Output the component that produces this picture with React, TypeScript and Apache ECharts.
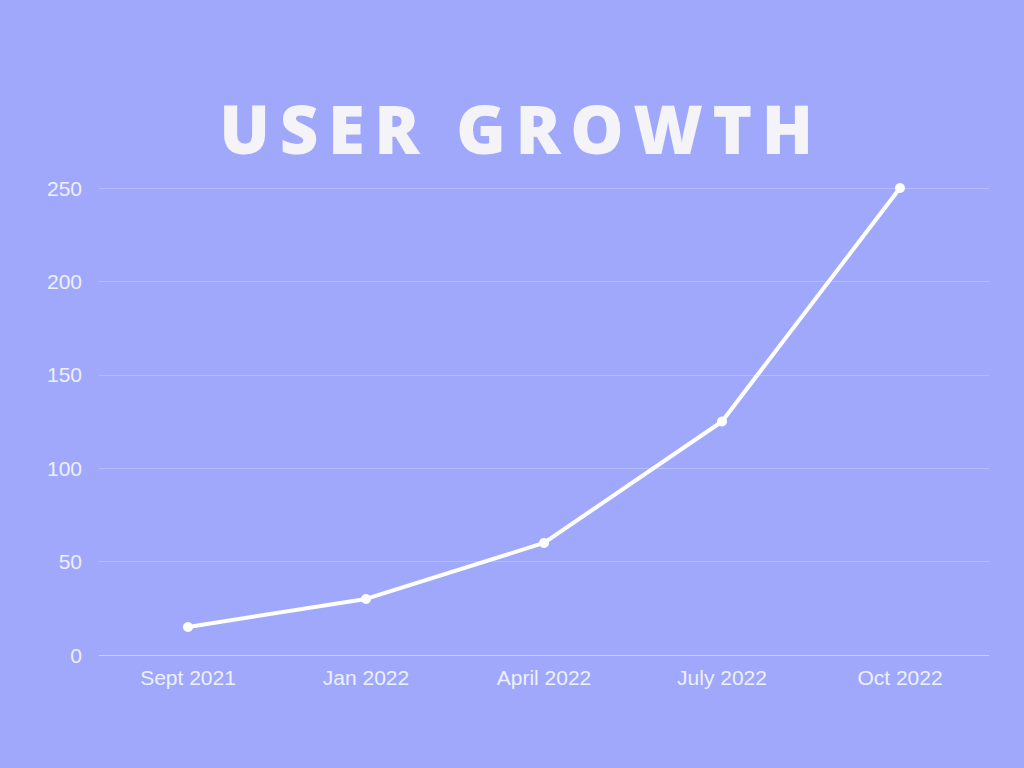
import React, { useEffect, useRef } from "react";
import * as echarts from "echarts";

const categories = ["Sept 2021", "Jan 2022", "April 2022", "July 2022", "Oct 2022"];
const users = [15, 30, 60, 125, 250];
const yTicks = { min: 0, max: 250, interval: 50 };
const titleText = "USER GROWTH";

export default function App() {
  const ref = useRef<HTMLDivElement>(null);
  useEffect(() => {
    if (!ref.current) return;
    const chart = echarts.init(ref.current, undefined, { renderer: "svg" });
    chart.setOption({
      animation: false,
      backgroundColor: "#a0a8fc",
      graphic: [
        {
          type: "text",
          x: 521,
          y: 94,
          style: {
            text: titleText,
            align: "center",
            verticalAlign: "top",
            fontFamily: "Open Sans",
            fontWeight: 800,
            fontSize: 67,
            fill: "#f4f4f8",
          },
        },
      ],
      grid: { left: 99, right: 35, top: 188, bottom: 113, containLabel: false },
      xAxis: {
        type: "category",
        data: categories,
        boundaryGap: true,
        axisLine: { show: true, lineStyle: { color: "rgba(255,255,255,0.3)", width: 1 } },
        axisTick: { show: false },
        axisLabel: {
          color: "#eef0ff",
          fontFamily: "Liberation Sans",
          fontSize: 21,
          margin: 12,
        },
      },
      yAxis: {
        type: "value",
        min: yTicks.min,
        max: yTicks.max,
        interval: yTicks.interval,
        axisLine: { show: false },
        axisTick: { show: false },
        axisLabel: {
          color: "#eef0ff",
          fontFamily: "Liberation Sans",
          fontSize: 21,
          margin: 17,
        },
        splitLine: { lineStyle: { color: "rgba(255,255,255,0.22)", width: 1 } },
      },
      series: [
        {
          type: "line",
          data: users,
          symbol: "circle",
          symbolSize: 10,
          lineStyle: { color: "#ffffff", width: 4 },
          itemStyle: { color: "#ffffff" },
        },
      ],
    });
    const applySpacing = () => {
      const texts = ref.current?.querySelectorAll("text") || [];
      texts.forEach((t) => {
        if (t.textContent === titleText) {
          t.setAttribute("letter-spacing", "9.6");
        }
      });
    };
    applySpacing();
    chart.on("finished", applySpacing);
    return () => chart.dispose();
  }, []);
  return (
    <div
      ref={ref}
      style={{ position: "fixed", left: 0, top: 0, width: 1024, height: 768 }}
    />
  );
}
